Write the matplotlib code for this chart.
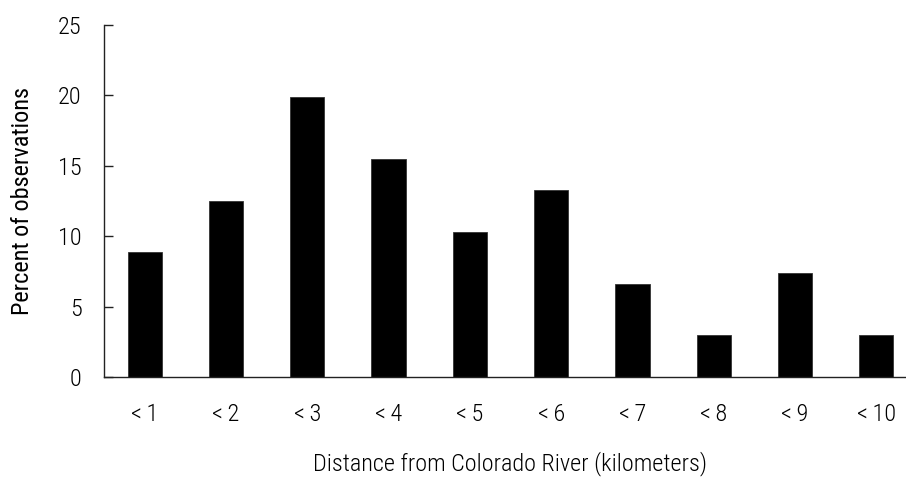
import matplotlib
matplotlib.use("Agg")
from matplotlib import pyplot as plt, font_manager

# Share of observations by distance class from the river
distance_labels = ["<\u20091", "<\u20092", "<\u20093", "<\u20094", "<\u20095",
                   "<\u20096", "<\u20097", "<\u20098", "<\u20099", "<\u200910"]
percent_obs = [8.85, 12.5, 19.9, 15.5, 10.3, 13.25, 6.6, 3.0, 7.4, 3.0]
y_ticks = [0, 5, 10, 15, 20, 25]

# prefer a narrow sans if one is installed
installed = {f.name for f in font_manager.fontManager.ttflist}
stretch = "normal"
for fam in ["Liberation Sans Narrow", "Roboto Condensed", "Open Sans Condensed"]:
    if fam in installed:
        font_family = fam
        break
else:
    font_family = "DejaVu Sans"
    stretch = "condensed"
plt.rcParams["font.family"] = [font_family, "DejaVu Sans"]
plt.rcParams["font.stretch"] = stretch
plt.rcParams["font.weight"] = "light"
FS = 17.5

fig = plt.figure(figsize=(9.06, 4.78), dpi=100)
ax = fig.add_axes([0.1148, 0.2113, 0.8852, 0.737])

positions = list(range(len(percent_obs)))
ax.bar(positions, percent_obs, width=0.42, color="black", edgecolor="#333333", linewidth=0.6)

ax.set_xlim(-0.5, 9.365)
ax.set_ylim(0, 25)
ax.set_yticks(y_ticks)
ax.set_yticklabels([str(v) for v in y_ticks], fontsize=FS)
ax.set_xticks(positions)
ax.set_xticklabels(distance_labels, fontsize=FS)

ax.tick_params(axis="y", direction="in", length=6.5, width=1.0, pad=16, color="#222222")
ax.tick_params(axis="x", length=0, pad=19)

for side in ["top", "right"]:
    ax.spines[side].set_visible(False)
for side in ["left", "bottom"]:
    ax.spines[side].set_linewidth(1.0)
    ax.spines[side].set_color("#222222")

ax.set_ylabel("Percent of observations", fontsize=FS)
ax.yaxis.set_label_coords(-(104 - 22) / 802, 0.5)
ax.yaxis.label.set_verticalalignment("center")

fig.text(510 / 906, 1 - 464 / 478, "Distance from Colorado River (kilometers)",
         fontsize=FS, ha="center", va="center")

fig.savefig("out.png", dpi=100)
